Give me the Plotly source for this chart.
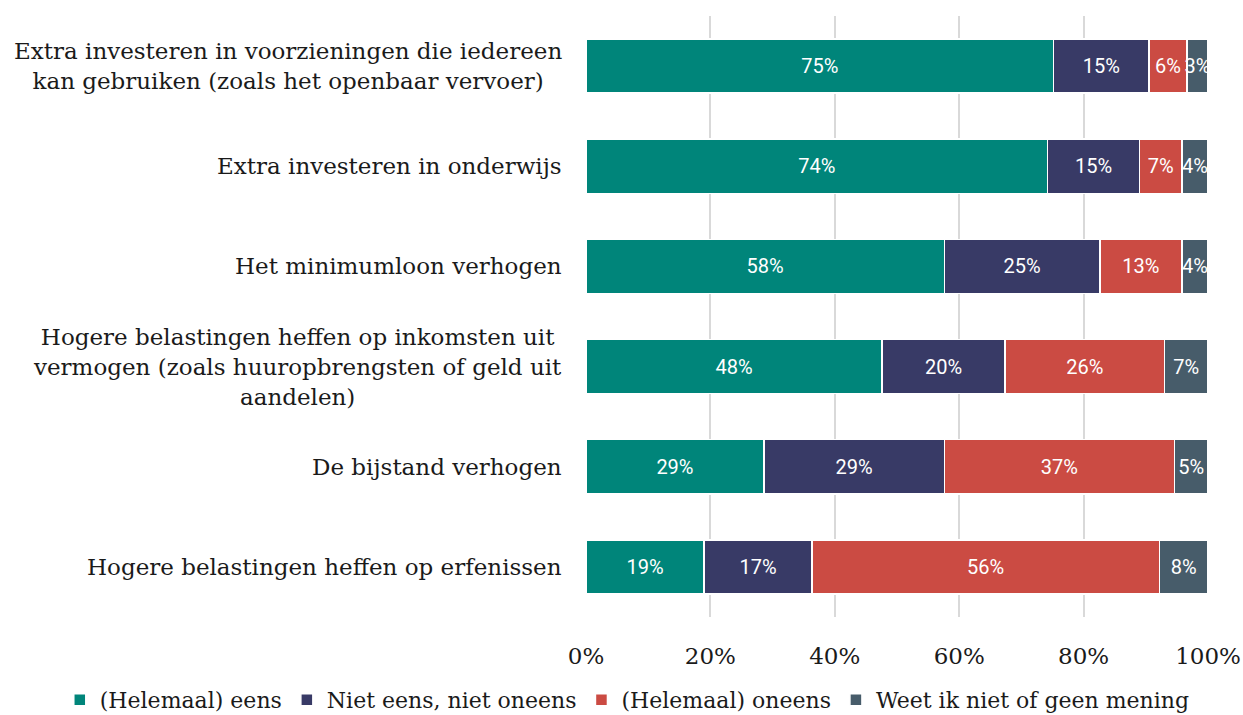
import plotly.graph_objects as go

categories = [
    "Extra investeren in voorzieningen die iedereen<br>kan gebruiken (zoals het openbaar vervoer)",
    "Extra investeren in onderwijs",
    "Het minimumloon verhogen",
    "Hogere belastingen heffen op inkomsten uit<br>vermogen (zoals huuropbrengsten of geld uit<br>aandelen)",
    "De bijstand verhogen",
    "Hogere belastingen heffen op erfenissen",
]
series_names = ["(Helemaal) eens", "Niet eens, niet oneens", "(Helemaal) oneens", "Weet ik niet of geen mening"]
eens = [75.2, 74.2, 57.6, 47.6, 28.6, 19.0]
neutraal = [15.3, 14.8, 25.0, 19.8, 29.0, 17.3]
oneens = [6.1, 6.8, 13.2, 25.6, 37.0, 55.9]
weetniet = [3.4, 4.2, 4.2, 7.0, 5.4, 7.8]
colors = ["#00857A", "#383A66", "#CB4B43", "#475C6A"]
tick_vals = [0, 20, 40, 60, 80, 100]
tick_text = ["0%", "20%", "40%", "60%", "80%", "100%"]

serif = "DejaVu Serif"
fig = go.Figure()
for name, vals, col in zip(series_names, [eens, neutraal, oneens, weetniet], colors):
    fig.add_trace(go.Bar(
        y=categories, x=vals, name=name, orientation="h",
        marker=dict(color=col, line=dict(color="white", width=1.5)),
        texttemplate="%{x:.0f}%", textposition="inside", insidetextanchor="middle",
        textangle=0, constraintext="none",
        textfont=dict(family="Roboto", size=20, color="white"),
        hoverinfo="skip",
    ))

for c in categories:
    fig.add_annotation(
        x=0, xref="paper", y=c, yref="y", xanchor="right", yanchor="middle",
        xshift=-22, text=c, showarrow=False, align="center",
        font=dict(family=serif, size=23, color="#1a1a1a"),
    )

fig.update_layout(
    barmode="stack",
    bargap=0.46,
    width=1243, height=715,
    margin=dict(l=586, r=35, t=16, b=98, autoexpand=False),
    plot_bgcolor="white", paper_bgcolor="white",
    uniformtext=dict(minsize=20, mode="show"),
    legend=dict(orientation="h", x=-0.846, xanchor="left",
                y=-0.138, yanchor="middle", traceorder="normal",
                font=dict(family=serif, size=22, color="#1a1a1a"),
                itemwidth=30),
    showlegend=True,
)
fig.update_xaxes(range=[0, 100], tickvals=tick_vals, ticktext=tick_text,
                 showgrid=True, gridcolor="#d9d9d9", gridwidth=2, zeroline=False,
                 tickfont=dict(family=serif, size=23, color="#1a1a1a"),
                 ticks="outside", ticklen=18, tickcolor="rgba(0,0,0,0)")
fig.update_yaxes(autorange="reversed", showticklabels=False, showgrid=False, zeroline=False)

fig.write_html("out.html")
